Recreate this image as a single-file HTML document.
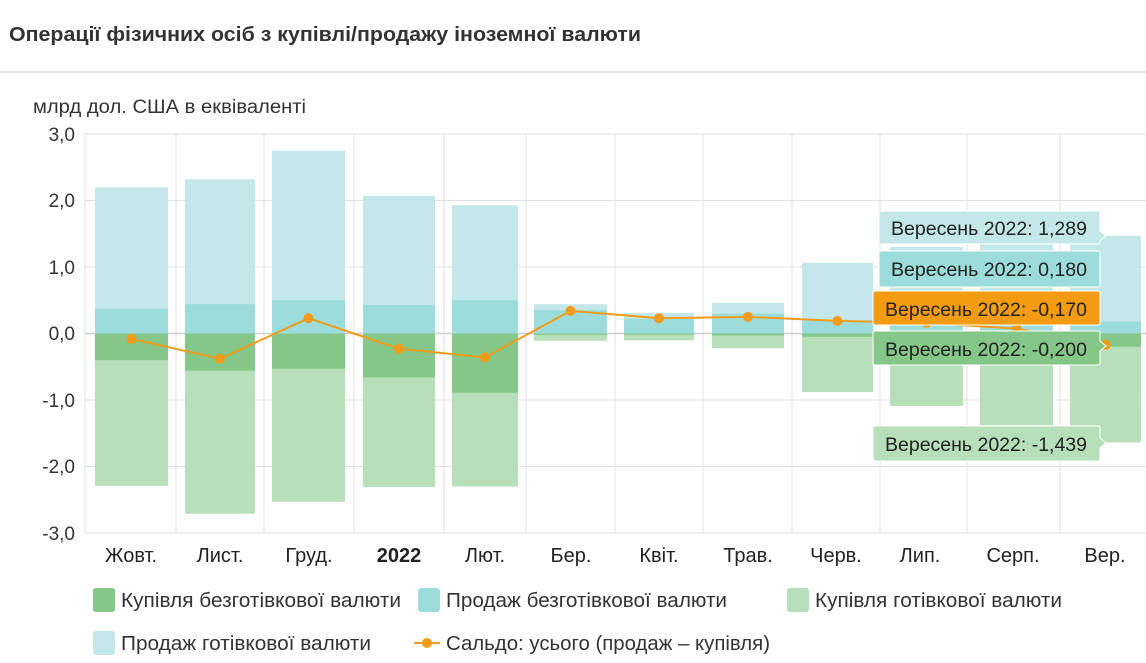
<!DOCTYPE html>
<html><head><meta charset="utf-8"><style>
body{margin:0;background:#fff;width:1146px;height:658px;overflow:hidden;font-family:"Liberation Sans",sans-serif}
svg text{font-family:"Liberation Sans",sans-serif}
</style></head><body>
<svg width="1146" height="658" xmlns="http://www.w3.org/2000/svg">
<text x="9" y="41" font-size="20" font-weight="bold" fill="#333" textLength="632" lengthAdjust="spacingAndGlyphs">Операції фізичних осіб з купівлі/продажу іноземної валюти</text>
<line x1="0" y1="72" x2="1146" y2="72" stroke="#e2e2e2" stroke-width="2"/>
<text x="33" y="113" font-size="19" fill="#333" textLength="273" lengthAdjust="spacingAndGlyphs">млрд дол. США в еквіваленті</text>
<g stroke="#e0e0e0" stroke-width="1">
<line x1="85" y1="134" x2="1146" y2="134"/><line x1="85" y1="200.5" x2="1146" y2="200.5"/><line x1="85" y1="267" x2="1146" y2="267"/><line x1="85" y1="400" x2="1146" y2="400"/><line x1="85" y1="466.5" x2="1146" y2="466.5"/><line x1="85" y1="533" x2="1146" y2="533"/>
<line x1="85" y1="134" x2="85" y2="533"/><line x1="176" y1="134" x2="176" y2="533"/><line x1="264" y1="134" x2="264" y2="533"/><line x1="354" y1="134" x2="354" y2="533"/><line x1="444" y1="134" x2="444" y2="533"/><line x1="526" y1="134" x2="526" y2="533"/><line x1="615" y1="134" x2="615" y2="533"/><line x1="703" y1="134" x2="703" y2="533"/><line x1="792" y1="134" x2="792" y2="533"/><line x1="880" y1="134" x2="880" y2="533"/><line x1="967" y1="134" x2="967" y2="533"/><line x1="1060" y1="134" x2="1060" y2="533"/>
</g>
<line x1="85" y1="333.5" x2="1146" y2="333.5" stroke="#ccc" stroke-width="1.5"/>
<g font-size="19" fill="#333" text-anchor="end">
<text x="75" y="141">3,0</text><text x="75" y="207">2,0</text><text x="75" y="274">1,0</text><text x="75" y="340">0,0</text><text x="75" y="407">-1,0</text><text x="75" y="473">-2,0</text><text x="75" y="540">-3,0</text>
</g>
<g>
<rect x="95" y="187.2" width="73" height="146.3" fill="#c4e8ea"/><rect x="95" y="308.9" width="73" height="24.6" fill="#9cdcdb"/><rect x="95" y="333.5" width="73" height="152.3" fill="#b6dfba"/><rect x="95" y="333.5" width="73" height="26.6" fill="#84c788"/>
<rect x="185" y="179.2" width="70" height="154.3" fill="#c4e8ea"/><rect x="185" y="304.2" width="70" height="29.3" fill="#9cdcdb"/><rect x="185" y="333.5" width="70" height="180.2" fill="#b6dfba"/><rect x="185" y="333.5" width="70" height="37.2" fill="#84c788"/>
<rect x="272" y="150.6" width="73" height="182.9" fill="#c4e8ea"/><rect x="272" y="300.3" width="73" height="33.2" fill="#9cdcdb"/><rect x="272" y="333.5" width="73" height="168.2" fill="#b6dfba"/><rect x="272" y="333.5" width="73" height="35.2" fill="#84c788"/>
<rect x="363" y="195.9" width="72" height="137.6" fill="#c4e8ea"/><rect x="363" y="304.9" width="72" height="28.6" fill="#9cdcdb"/><rect x="363" y="333.5" width="72" height="153.6" fill="#b6dfba"/><rect x="363" y="333.5" width="72" height="43.9" fill="#84c788"/>
<rect x="452" y="205.2" width="66" height="128.3" fill="#c4e8ea"/><rect x="452" y="300.3" width="66" height="33.2" fill="#9cdcdb"/><rect x="452" y="333.5" width="66" height="153" fill="#b6dfba"/><rect x="452" y="333.5" width="66" height="59.2" fill="#84c788"/>
<rect x="534" y="304.2" width="73" height="29.3" fill="#c4e8ea"/><rect x="534" y="310.2" width="73" height="23.3" fill="#9cdcdb"/><rect x="534" y="333.5" width="73" height="7.3" fill="#b6dfba"/><rect x="534" y="333.5" width="73" height="1.3" fill="#84c788"/>
<rect x="624" y="312.9" width="70" height="20.6" fill="#c4e8ea"/><rect x="624" y="318.9" width="70" height="14.6" fill="#9cdcdb"/><rect x="624" y="333.5" width="70" height="6.7" fill="#b6dfba"/><rect x="624" y="333.5" width="70" height="1.3" fill="#84c788"/>
<rect x="712" y="302.9" width="72" height="30.6" fill="#c4e8ea"/><rect x="712" y="313.6" width="72" height="19.9" fill="#9cdcdb"/><rect x="712" y="333.5" width="72" height="14.6" fill="#b6dfba"/><rect x="712" y="333.5" width="72" height="2" fill="#84c788"/>
<rect x="802" y="263" width="71" height="70.5" fill="#c4e8ea"/><rect x="802" y="320.2" width="71" height="13.3" fill="#9cdcdb"/><rect x="802" y="333.5" width="71" height="58.5" fill="#b6dfba"/><rect x="802" y="333.5" width="71" height="3.3" fill="#84c788"/>
<rect x="890" y="247" width="73" height="86.5" fill="#c4e8ea"/><rect x="890" y="320.2" width="73" height="13.3" fill="#9cdcdb"/><rect x="890" y="333.5" width="73" height="72.5" fill="#b6dfba"/><rect x="890" y="333.5" width="73" height="4.7" fill="#84c788"/>
<rect x="980" y="240.4" width="73" height="93.1" fill="#c4e8ea"/><rect x="980" y="320.2" width="73" height="13.3" fill="#9cdcdb"/><rect x="980" y="333.5" width="73" height="91.8" fill="#b6dfba"/><rect x="980" y="333.5" width="73" height="6.7" fill="#84c788"/>
<rect x="1070" y="235.8" width="71" height="97.7" fill="#c4e8ea"/><rect x="1070" y="321.5" width="71" height="12" fill="#9cdcdb"/><rect x="1070" y="333.5" width="71" height="109" fill="#b6dfba"/><rect x="1070" y="333.5" width="71" height="13.3" fill="#84c788"/>
</g>
<polyline fill="none" stroke="#f39c1a" stroke-width="2" points="131.5,338.8 220,358.8 308.5,318.2 399,348.8 485,357.4 570.5,310.9 659,318.2 748,316.9 837.5,320.9 926.5,322.9 1016.5,328.8 1105.5,344.8"/>
<g fill="#f39c1a">
<circle cx="131.5" cy="338.8" r="5"/><circle cx="220" cy="358.8" r="5"/><circle cx="308.5" cy="318.2" r="5"/><circle cx="399" cy="348.8" r="5"/><circle cx="485" cy="357.4" r="5"/><circle cx="570.5" cy="310.9" r="5"/><circle cx="659" cy="318.2" r="5"/><circle cx="748" cy="316.9" r="5"/><circle cx="837.5" cy="320.9" r="5"/><circle cx="926.5" cy="322.9" r="5"/><circle cx="1016.5" cy="328.8" r="5"/><circle cx="1105.5" cy="344.8" r="5"/>
</g>
<g font-size="20" fill="#222" text-anchor="middle">
<text x="131" y="562">Жовт.</text><text x="220" y="562">Лист.</text><text x="309" y="562">Груд.</text><text x="399" y="562" font-weight="bold">2022</text><text x="485" y="562">Лют.</text><text x="571" y="562">Бер.</text><text x="659" y="562">Квіт.</text><text x="748" y="562">Трав.</text><text x="836" y="562">Черв.</text><text x="920" y="562">Лип.</text><text x="1013" y="562">Серп.</text><text x="1105" y="562">Вер.</text>
</g>
<g font-size="19" fill="#222">
<path d="M879,213 a2,2 0 0 1 2,-2 h217 a2,2 0 0 1 2,2 v18 l6,5 l-6,5 v1 a2,2 0 0 1 -2,2 h-217 a2,2 0 0 1 -2,-2z" fill="#c4e8ea" stroke="#fff"/>
<text x="891" y="235" textLength="196" lengthAdjust="spacingAndGlyphs">Вересень 2022: 1,289</text>
<path d="M879,253 a2,2 0 0 1 2,-2 h217 a2,2 0 0 1 2,2 v32 a2,2 0 0 1 -2,2 h-217 a2,2 0 0 1 -2,-2z" fill="#9cdcdb" stroke="#fff"/>
<text x="891" y="276" textLength="196" lengthAdjust="spacingAndGlyphs">Вересень 2022: 0,180</text>
<path d="M873,293 a2,2 0 0 1 2,-2 h223 a2,2 0 0 1 2,2 v30 a2,2 0 0 1 -2,2 h-223 a2,2 0 0 1 -2,-2z" fill="#f39c12" stroke="#fff"/>
<text x="885" y="316" textLength="202" lengthAdjust="spacingAndGlyphs">Вересень 2022: -0,170</text>
<path d="M873,333 a2,2 0 0 1 2,-2 h223 a2,2 0 0 1 2,2 v8 l6,5 l-6,5 v12 a2,2 0 0 1 -2,2 h-223 a2,2 0 0 1 -2,-2z" fill="#84c788" stroke="#fff"/>
<text x="885" y="356" textLength="202" lengthAdjust="spacingAndGlyphs">Вересень 2022: -0,200</text>
<path d="M873,428 a2,2 0 0 1 2,-2 h223 a2,2 0 0 1 2,2 v10 l6,5 l-6,5 v11 a2,2 0 0 1 -2,2 h-223 a2,2 0 0 1 -2,-2z" fill="#b6dfba" stroke="#fff"/>
<text x="885" y="451" textLength="202" lengthAdjust="spacingAndGlyphs">Вересень 2022: -1,439</text>
</g>
<g font-size="20" fill="#333">
<rect x="93" y="588" width="22" height="24" rx="3" fill="#84c788"/><text x="121" y="607" textLength="280" lengthAdjust="spacingAndGlyphs">Купівля безготівкової валюти</text>
<rect x="418" y="588" width="22" height="24" rx="3" fill="#9cdcdb"/><text x="446" y="607" textLength="281" lengthAdjust="spacingAndGlyphs">Продаж безготівкової валюти</text>
<rect x="787" y="588" width="22" height="24" rx="3" fill="#b6dfba"/><text x="815" y="607" textLength="247" lengthAdjust="spacingAndGlyphs">Купівля готівкової валюти</text>
<rect x="93" y="631" width="22" height="24" rx="3" fill="#c4e8ea"/><text x="121" y="650" textLength="250" lengthAdjust="spacingAndGlyphs">Продаж готівкової валюти</text>
<line x1="414" y1="643" x2="440" y2="643" stroke="#f39c1a" stroke-width="2"/><circle cx="427" cy="643" r="5" fill="#f39c1a"/><text x="446" y="650" textLength="324" lengthAdjust="spacingAndGlyphs">Сальдо: усього (продаж – купівля)</text>
</g>
</svg>
</body></html>
